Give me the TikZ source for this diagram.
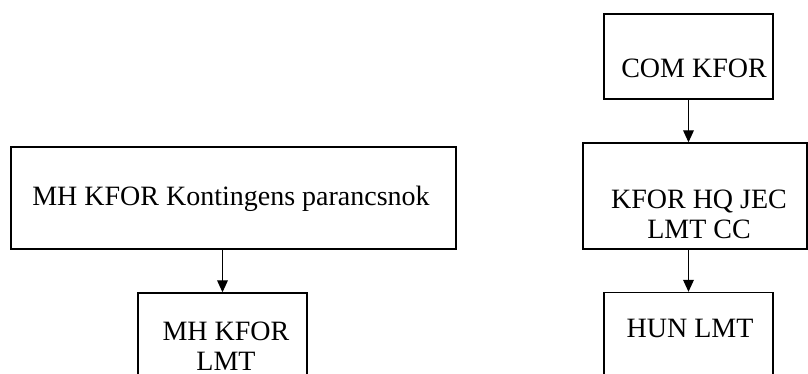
\documentclass[tikz,border=0pt]{standalone}
\usepackage{fontspec}
\setmainfont{Liberation Serif}
\usetikzlibrary{arrows.meta}
\tikzset{
  box/.style={draw, line width=1pt, inner sep=0pt},
  lbl/.style={align=center, inner sep=0pt, font=\fontsize{21}{22.5}\selectfont},
  arr/.style={line width=1pt, -{Triangle[length=9pt,width=8pt]}}
}
\begin{document}
\begin{tikzpicture}[x=0.75pt,y=-0.75pt]
  \useasboundingbox (0,0) rectangle (808,374);
  % left column
  \node[box, minimum width=333.75pt, minimum height=76.5pt] (kont) at (233.5,198) {};
  \node[lbl] (konttxt) at (231,199) {MH KFOR Kontingens parancsnok};
  \node[box, minimum width=126.75pt, minimum height=95.25pt] (mhlmt) at (222.5,356.5) {};
  \node[lbl] (mhlmttxt) at (226,346) {MH KFOR\\LMT};
  \draw[arr] (mhlmt.north |- kont.south) -- (mhlmt.north);
  % right column
  \node[box, minimum width=126.75pt, minimum height=63.75pt] (com) at (688.5,56.5) {};
  \node[lbl] (comtxt) at (694,68) {COM KFOR};
  \node[box, minimum width=168pt, minimum height=79.5pt] (jec) at (695,196) {};
  \node[lbl] (jectxt) at (699,214) {KFOR HQ JEC\\LMT CC};
  \node[box, minimum width=126.75pt, minimum height=95.25pt] (hun) at (688.5,356) {};
  \node[lbl] (huntxt) at (690,328) {HUN LMT};
  \draw[arr] (com.south) -- (com.south |- jec.north);
  \draw[arr] (jec.south -| hun.north) -- (hun.north);
\end{tikzpicture}
\end{document}
